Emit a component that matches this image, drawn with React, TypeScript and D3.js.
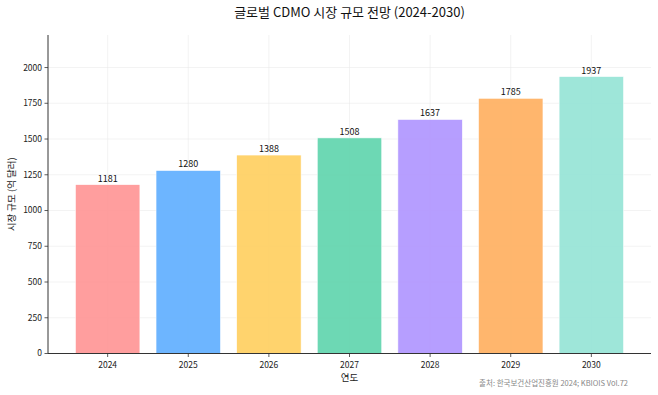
import React from "react";
import * as d3 from "d3";

const years = ["2024", "2025", "2026", "2027", "2028", "2029", "2030"];
const values = [1181, 1280, 1388, 1508, 1637, 1785, 1937];
const colors = ["#FF9999", "#66B2FF", "#FFD166", "#66D6B0", "#B399FF", "#FFB366", "#99E5D8"];
const yTicks = [0, 250, 500, 750, 1000, 1250, 1500, 1750, 2000];

const W = 658, H = 395;
const L = 48, R = 651, T = 35, B = 353.5;
const FONT = "'Noto Sans CJK KR', 'Noto Sans', sans-serif";

export default function App() {
  const x = d3.scaleLinear().domain([-0.74, years.length - 1 + 0.74]).range([L, R]);
  const y = d3.scaleLinear().domain([0, 1937 * 1.15]).range([B, T]);
  const bw = x(0.8) - x(0);
  return (
    <svg width={W} height={H} style={{ position: "absolute", left: 0, top: 0, background: "#fff" }} fontFamily={FONT}>
      {yTicks.map((t) => (
        <line key={"gy" + t} x1={L} x2={R} y1={y(t)} y2={y(t)} stroke="#e8e8e8" strokeWidth={0.7} opacity={0.7} />
      ))}
      {years.map((yr, i) => (
        <line key={"gx" + yr} x1={x(i)} x2={x(i)} y1={T} y2={B} stroke="#e8e8e8" strokeWidth={0.7} opacity={0.7} />
      ))}
      {values.map((v, i) => (
        <g key={years[i]}>
          <rect x={x(i) - bw / 2} y={y(v)} width={bw} height={B - y(v)} fill={colors[i]} opacity={0.95} stroke="#fff" strokeWidth={0.6} />
          <text x={x(i)} y={y(v) - 3} textAnchor="middle" fontSize={9} fill="#111">{v}</text>
        </g>
      ))}
      <line x1={L} x2={L} y1={T} y2={B} stroke="#333" strokeWidth={1} />
      <line x1={L} x2={R} y1={B} y2={B} stroke="#333" strokeWidth={1} />
      {yTicks.map((t) => (
        <g key={"ty" + t}>
          <line x1={L - 3.5} x2={L} y1={y(t)} y2={y(t)} stroke="#333" strokeWidth={0.8} />
          <text x={L - 6} y={y(t)} dy="0.35em" textAnchor="end" fontSize={8.5} fill="#222">{t}</text>
        </g>
      ))}
      {years.map((yr, i) => (
        <g key={"tx" + yr}>
          <line x1={x(i)} x2={x(i)} y1={B} y2={B + 3.5} stroke="#333" strokeWidth={0.8} />
          <text x={x(i)} y={B + 14} textAnchor="middle" fontSize={8.5} fill="#222">{yr}</text>
        </g>
      ))}
      <text x={(L + R) / 2} y={17} textAnchor="middle" fontSize={13} fill="#111">글로벌 CDMO 시장 규모 전망 (2024-2030)</text>
      <text x={(L + R) / 2} y={381} textAnchor="middle" fontSize={9.5} fill="#222">연도</text>
      <text transform={`translate(15, ${(T + B) / 2}) rotate(-90)`} textAnchor="middle" fontSize={9.5} fill="#222">시장 규모 (억 달러)</text>
      <text x={628} y={386} textAnchor="end" fontSize={7.5} fill="#888">출처: 한국보건산업진흥원 2024; KBIOIS Vol.72</text>
    </svg>
  );
}
